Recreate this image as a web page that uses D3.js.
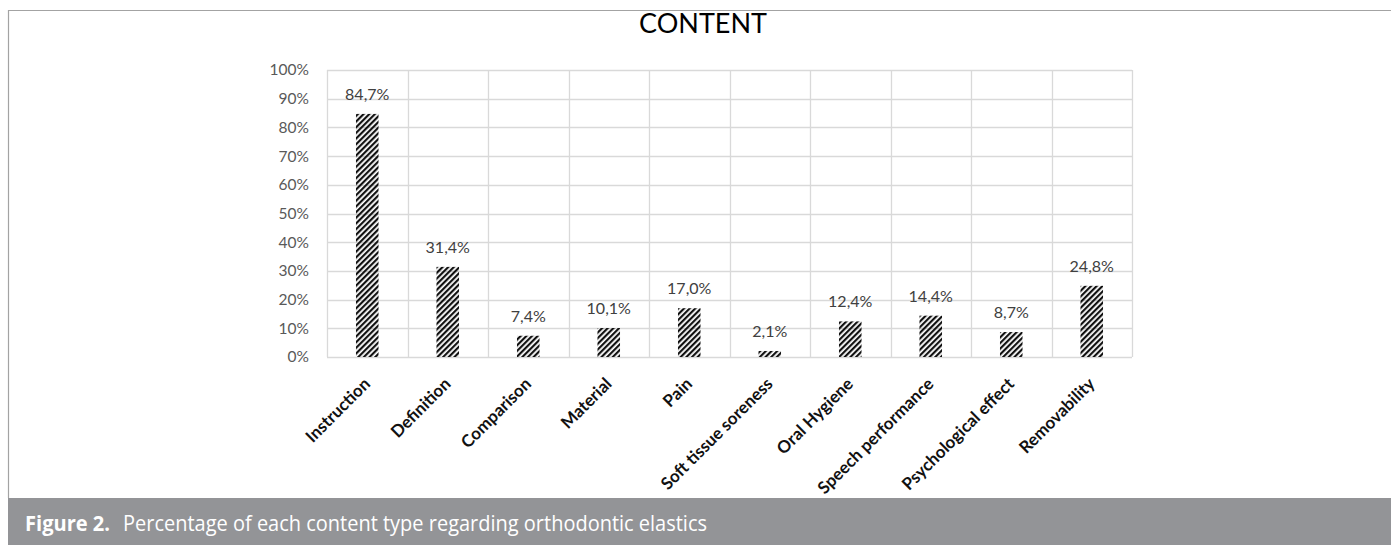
<!DOCTYPE html>
<html>
<head>
<meta charset="utf-8">
<script src="https://cdn.jsdelivr.net/npm/d3@7"></script>
<style>
  body { margin: 0; background: #fff; }
</style>
</head>
<body>
<div id="chart"></div>
<script>
// data
const categories = ["Instruction", "Definition", "Comparison", "Material", "Pain",
  "Soft tissue soreness", "Oral Hygiene", "Speech performance", "Psychological effect", "Removability"];
const values = [84.7, 31.4, 7.4, 10.1, 17.0, 2.1, 12.4, 14.4, 8.7, 24.8];
const yTicks = [0, 10, 20, 30, 40, 50, 60, 70, 80, 90, 100];
const chartTitle = "CONTENT";
const captionLabel = "Figure 2.";
const captionText = "Percentage of each content type regarding orthodontic elastics";

const W = 1391, H = 545;
const margin = {top: 70, left: 327, right: 259, bottom: 188};
const width = W - margin.left - margin.right,
      height = H - margin.top - margin.bottom;

const svg = d3.select("#chart").append("svg")
  .attr("width", W).attr("height", H);

// hatch pattern
const defs = svg.append("defs");
defs.append("pattern")
  .attr("id", "hatch")
  .attr("patternUnits", "userSpaceOnUse")
  .attr("width", 4).attr("height", 4)
  .attr("patternTransform", "rotate(45)")
  .append("rect")
    .attr("x", 0).attr("y", 0)
    .attr("width", 2.2).attr("height", 4)
    .attr("fill", "#111");

// outer frame
svg.append("path")
  .attr("d", `M8.5,${H - 47} V10.5 H${W}`)
  .attr("fill", "none")
  .attr("stroke", "#a3a3a3")
  .attr("stroke-width", 1.2);

// caption band
svg.append("rect")
  .attr("x", 8).attr("y", 498)
  .attr("width", W - 8).attr("height", H - 498)
  .attr("fill", "#939497");
svg.append("text")
  .attr("x", 25).attr("y", 531)
  .attr("fill", "#fff")
  .attr("textLength", 85).attr("lengthAdjust", "spacingAndGlyphs")
  .style("font-family", "'Open Sans', sans-serif")
  .style("font-size", "21px")
  .style("font-weight", "bold")
  .text(captionLabel);
svg.append("text")
  .attr("x", 123).attr("y", 531)
  .attr("fill", "#fff")
  .attr("textLength", 584).attr("lengthAdjust", "spacingAndGlyphs")
  .style("font-family", "'Open Sans', sans-serif")
  .style("font-size", "21px")
  .text(captionText);

// title
svg.append("text")
  .attr("x", 703)
  .attr("y", 33)
  .attr("text-anchor", "middle")
  .style("font-family", "Lato, 'Open Sans', sans-serif")
  .style("font-size", "27px")
  .attr("fill", "#000")
  .text(chartTitle);

const g = svg.append("g")
  .attr("transform", `translate(${margin.left}, ${margin.top})`);

const x = d3.scaleBand()
  .domain(categories)
  .range([0, width])
  .paddingInner(0.72)
  .paddingOuter(0.36);

const xGrid = d3.scaleLinear().domain([0, categories.length]).range([0, width]);

const y = d3.scaleLinear()
  .domain([0, 100])
  .range([height, 0]);

// horizontal gridlines
g.append("g")
  .selectAll("line")
  .data(yTicks)
  .join("line")
    .attr("x1", 0).attr("x2", width)
    .attr("y1", d => Math.round(y(d)) + 0.5)
    .attr("y2", d => Math.round(y(d)) + 0.5)
    .attr("stroke", "#d9d9d9")
    .attr("stroke-width", 1.3);

// vertical category separators
g.append("g")
  .selectAll("line")
  .data(d3.range(categories.length + 1))
  .join("line")
    .attr("x1", d => Math.round(xGrid(d)) + 0.5)
    .attr("x2", d => Math.round(xGrid(d)) + 0.5)
    .attr("y1", 0).attr("y2", height)
    .attr("stroke", "#d9d9d9")
    .attr("stroke-width", 1.3);

// y axis labels
const yAxis = g.append("g")
  .call(d3.axisLeft(y).tickValues(yTicks).tickFormat(d => d + "%").tickSize(0).tickPadding(18));
yAxis.select(".domain").remove();
yAxis.selectAll("text")
  .style("font-family", "Lato, 'Open Sans', sans-serif")
  .style("font-size", "15.5px")
  .attr("fill", "#595959");

// bars
g.selectAll(".bar")
  .data(values)
  .join("rect")
    .attr("class", "bar")
    .attr("x", (d, i) => x(categories[i]))
    .attr("width", x.bandwidth())
    .attr("y", d => y(d))
    .attr("height", d => height - y(d))
    .attr("fill", "url(#hatch)");

// value labels
g.selectAll(".val")
  .data(values)
  .join("text")
    .attr("class", "val")
    .attr("x", (d, i) => x(categories[i]) + x.bandwidth() / 2)
    .attr("y", d => y(d) - 14)
    .attr("text-anchor", "middle")
    .style("font-family", "Lato, 'Open Sans', sans-serif")
    .style("font-size", "16px")
    .attr("fill", "#404040")
    .text(d => d.toFixed(1).replace(".", ",") + "%");

// x axis labels
const xAxis = g.append("g")
  .attr("transform", `translate(0, ${height})`)
  .call(d3.axisBottom(x).tickSize(0).tickPadding(0));
xAxis.select(".domain").remove();
xAxis.selectAll("text")
  .attr("text-anchor", "end")
  .attr("dy", 0)
  .attr("transform", "translate(4, 28) rotate(-45)")
  .style("font-family", "Lato, 'Open Sans', sans-serif")
  .style("font-weight", "bold")
  .style("font-size", "17px")
  .attr("fill", "#111");
</script>
</body>
</html>
